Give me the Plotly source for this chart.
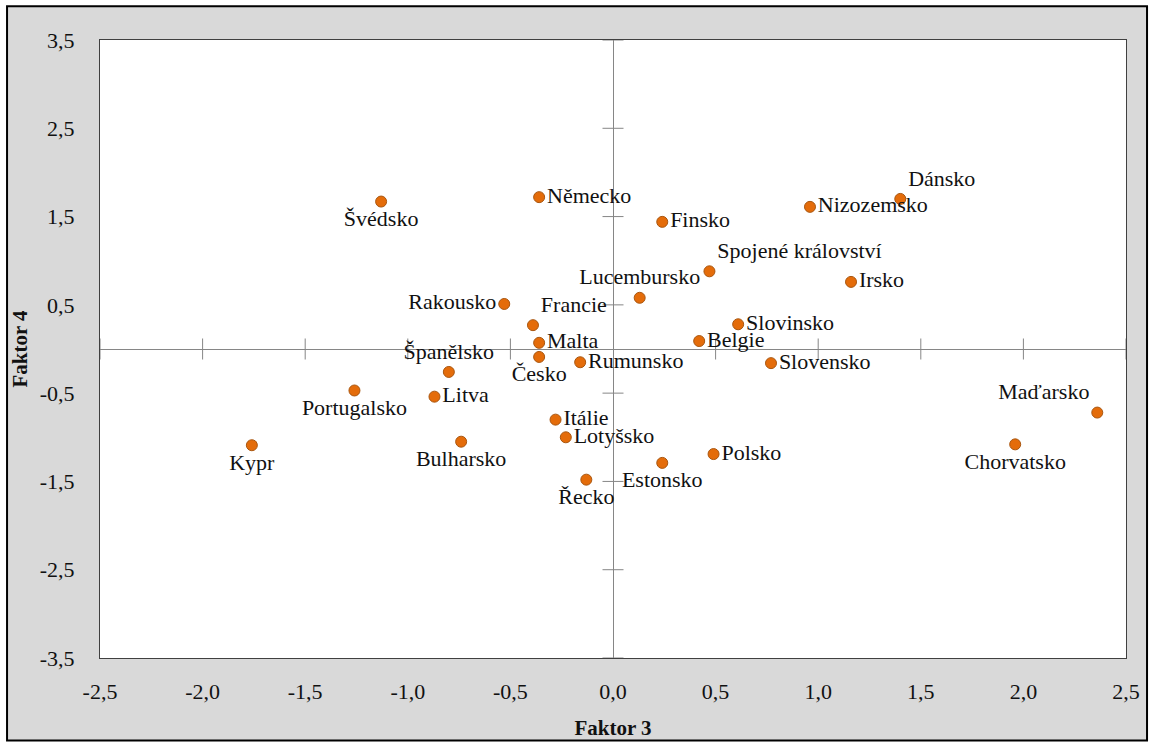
import plotly.graph_objects as go

# factor scores (Faktor 3 = x, Faktor 4 = y)
countries = ["Švédsko", "Německo", "Finsko", "Dánsko", "Nizozemsko",
             "Spojené království", "Irsko", "Lucembursko", "Rakousko", "Francie",
             "Malta", "Česko", "Rumunsko", "Slovinsko", "Belgie", "Slovensko",
             "Španělsko", "Portugalsko", "Litva", "Kypr", "Bulharsko", "Itálie",
             "Lotyšsko", "Řecko", "Estonsko", "Polsko", "Chorvatsko", "Maďarsko"]
faktor3 = [-1.13, -0.36, 0.24, 1.40, 0.96, 0.47, 1.16, 0.13, -0.53, -0.39,
           -0.36, -0.36, -0.16, 0.61, 0.42, 0.77, -0.80, -1.26, -0.87, -1.76,
           -0.74, -0.28, -0.23, -0.13, 0.24, 0.49, 1.96, 2.36]
faktor4 = [1.67, 1.72, 1.44, 1.70, 1.61, 0.88, 0.76, 0.58, 0.51, 0.27,
           0.07, -0.09, -0.15, 0.28, 0.09, -0.16, -0.26, -0.47, -0.54, -1.09,
           -1.05, -0.80, -1.00, -1.48, -1.29, -1.19, -1.08, -0.72]

x_ticks = [-2.5, -2.0, -1.5, -1.0, -0.5, 0.0, 0.5, 1.0, 1.5, 2.0, 2.5]
y_ticks = [-3.5, -2.5, -1.5, -0.5, 0.5, 1.5, 2.5, 3.5]

# where each label sits relative to its point
label_pos = ["bottom center", "middle right", "middle right", "top right", "middle right",
             "top right", "middle right", "top center", "middle left", "top right",
             "middle right", "bottom center", "middle right", "middle right", "middle right",
             "middle right", "top center", "bottom center", "middle right", "bottom center",
             "bottom center", "middle right", "middle right", "bottom center", "bottom center",
             "middle right", "bottom center", "top left"]

FONT = "Times New Roman, Liberation Serif, serif"
GREY = "#868686"
INK = "#111111"


def fmt(v):
    # Excel style: hyphen minus and decimal comma
    return f"{v:.1f}".replace(".", ",")


fig = go.Figure()

# cross tick marks on the axes that meet at zero
fig.add_trace(go.Scatter(
    x=[t for t in x_ticks if t != 0], y=[0] * (len(x_ticks) - 1),
    mode="markers", hoverinfo="skip", showlegend=False,
    marker=dict(symbol="line-ns", size=15, line=dict(color=GREY, width=1))))
fig.add_trace(go.Scatter(
    x=[0] * len(y_ticks), y=y_ticks,
    mode="markers", hoverinfo="skip", showlegend=False,
    marker=dict(symbol="line-ew", size=15, line=dict(color=GREY, width=1))))

fig.add_trace(go.Scatter(
    x=faktor3, y=faktor4, text=countries,
    mode="markers+text", textposition=label_pos, showlegend=False,
    textfont=dict(family=FONT, size=22, color=INK),
    marker=dict(size=11, color="#E46C0A", line=dict(color="#A9560F", width=1))))

fig.update_xaxes(
    range=[-2.5, 2.5], tickvals=x_ticks, ticktext=[fmt(t) for t in x_ticks],
    showgrid=False, zeroline=True, zerolinecolor=GREY, zerolinewidth=1,
    showline=True, linecolor="#404040", linewidth=1, mirror=True,
    ticks="", ticklabelstandoff=14,
    tickfont=dict(family=FONT, size=22, color=INK),
    title=dict(text="<b>Faktor 3</b>", font=dict(family=FONT, size=21, color=INK),
               standoff=16))
fig.update_yaxes(
    range=[-3.5, 3.5], tickvals=y_ticks, ticktext=[fmt(t) for t in y_ticks],
    showgrid=False, zeroline=True, zerolinecolor=GREY, zerolinewidth=1,
    showline=True, linecolor="#404040", linewidth=1, mirror=True,
    ticks="", ticklabelstandoff=20,
    tickfont=dict(family=FONT, size=22, color=INK),
    title=dict(text="<b>Faktor 4</b>", font=dict(family=FONT, size=21, color=INK),
               standoff=6))

fig.update_layout(
    width=1152, height=747,
    margin=dict(l=100, r=25, t=40, b=85),
    paper_bgcolor="white", plot_bgcolor="white",
    font=dict(family=FONT),
    shapes=[
        # grey chart area with black frame
        dict(type="rect", xref="paper", yref="paper", layer="below",
             x0=-0.0906, x1=1.0205, y0=-0.1334, y1=1.0547,
             fillcolor="#D9D9D9", line=dict(color="black", width=2)),
        # white plot area on top of it
        dict(type="rect", xref="paper", yref="paper", layer="below",
             x0=0, x1=1, y0=0, y1=1, fillcolor="white", line=dict(width=0)),
    ])

fig.write_html("out.html", config={"displayModeBar": False},
               post_script="document.body.style.margin = '0';")
